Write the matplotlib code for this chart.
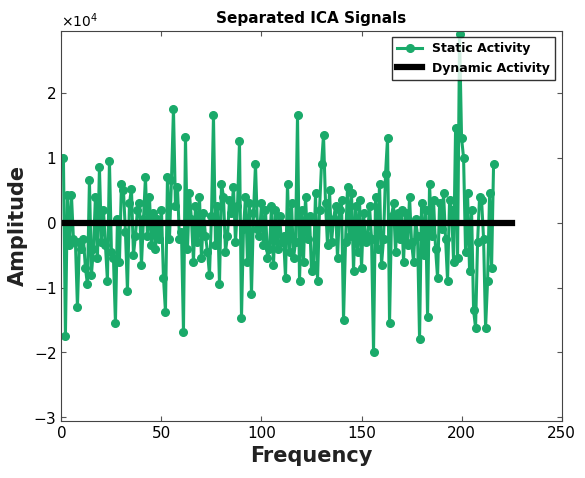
import numpy as np
import matplotlib.pyplot as plt

# Static activity (units of 1e4)
static = [
    1.00, -1.75, 0.42, -0.35, 0.43, -0.25, -0.30, -1.30, -0.30, -0.40,
    -0.25, -0.70, -0.95, 0.65, -0.80, -0.40, 0.40, -0.55, 0.85, -0.30,
    0.20, -0.35, -0.90, 0.95, -0.45, -0.55, -1.55, 0.05, -0.60, 0.60,
    0.50, -0.15, -1.05, 0.30, 0.52, -0.50, -0.20, 0.20, 0.30, -0.65,
    0.05, 0.70, -0.20, 0.40, -0.35, 0.15, -0.40, 0.05, -0.25, 0.20,
    -0.85, -1.37, 0.70, -0.25, 0.65, 1.75, 0.25, 0.55, -0.25, -0.15,
    -1.68, 1.32, -0.40, 0.45, 0.05, -0.60, 0.25, -0.30, 0.40, -0.55,
    0.15, -0.20, -0.45, -0.80, 0.10, 1.65, -0.35, 0.25, -0.95, 0.60,
    0.40, -0.45, -0.20, 0.35, 0.15, 0.55, -0.30, 0.25, 1.25, -1.47,
    -0.10, 0.40, -0.60, 0.30, -1.10, 0.15, 0.90, -0.10, -0.20, 0.30,
    -0.35, 0.20, -0.55, -0.40, 0.25, -0.65, 0.20, -0.40, 0.10, -0.30,
    -0.20, -0.85, 0.60, -0.45, 0.30, -0.55, -0.30, 1.65, -0.90, 0.20,
    -0.60, 0.40, -0.25, 0.10, -0.75, -0.65, 0.45, -0.90, 0.20, 0.90,
    1.35, 0.30, -0.35, 0.50, -0.30, 0.05, 0.25, -0.55, 0.20, 0.35,
    -1.50, -0.30, 0.55, -0.20, 0.45, -0.75, 0.25, -0.45, 0.35, -0.70,
    0.15, -0.30, -0.20, 0.25, -0.25, -2.00, 0.40, -0.40, 0.60, -0.65,
    -0.25, 0.75, 1.30, -1.55, 0.10, 0.30, -0.45, 0.15, -0.25, 0.20,
    -0.60, 0.15, -0.35, 0.40, -0.30, -0.60, 0.05, -0.20, -1.80, 0.30,
    -0.50, 0.20, -1.45, 0.60, -0.20, 0.35, -0.40, -0.85, 0.30, -0.10,
    0.45, -0.25, -0.90, 0.35, 0.20, -0.60, 1.45, -0.55, 2.90, 1.30,
    1.00, -0.45, 0.45, -0.75, 0.20, -1.35, -1.62, -0.30, 0.40, 0.35,
    -0.25, -1.62, -0.90, 0.45, -0.70, 0.90,
]
dynamic = [0.0] * 225

static_x = np.arange(1, len(static) + 1)
dynamic_x = np.arange(1, len(dynamic) + 1)

plt.figure(figsize=(5.85, 4.78), dpi=100)
ax = plt.gca()
ax.plot(static_x, np.array(static) * 1e4, color='#1aaa6a', linewidth=2.2,
        marker='o', markersize=5.5, label='Static Activity')
ax.plot(dynamic_x, np.array(dynamic) * 1e4, color='black', linewidth=4.5,
        label='Dynamic Activity')
ax.set_xlim(0, 250)
ax.set_ylim(-3.05e4, 2.95e4)
ax.set_xticks([0, 50, 100, 150, 200, 250])
ax.set_yticks([-3e4, -2e4, -1e4, 0, 1e4, 2e4])
ax.ticklabel_format(axis='y', style='sci', scilimits=(0, 0), useMathText=True)
ax.tick_params(direction='in', labelsize=11, top=True, right=True, color='#555555')
for s in ax.spines.values():
    s.set_color('#444444')
ax.set_xlabel('Frequency', fontsize=15, fontweight='bold', color='#222222')
ax.set_ylabel('Amplitude', fontsize=15, fontweight='bold', color='#222222')
ax.set_title('Separated ICA Signals', fontsize=11, fontweight='bold')
leg = ax.legend(loc='upper right', fancybox=False, edgecolor='black',
                prop={'weight': 'bold', 'size': 9})
plt.subplots_adjust(left=0.105, right=0.96, top=0.935, bottom=0.12)
plt.savefig('out.png')
